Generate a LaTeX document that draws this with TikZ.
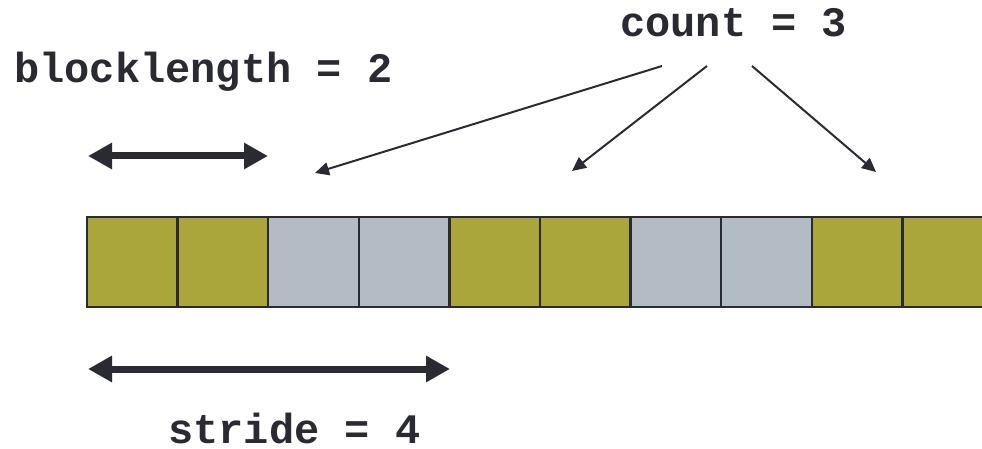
\documentclass[tikz,border=0pt]{standalone}
\usepackage{fontspec}
\setmonofont{Liberation Mono}
\usetikzlibrary{arrows.meta}
\definecolor{cellA}{HTML}{ABA63C}
\definecolor{cellB}{HTML}{B3BCC5}
\definecolor{inkc}{HTML}{2A2A33}
\tikzset{
  cellbox/.style={draw=inkc, line width=2.5pt, minimum width=90.6pt, minimum height=90pt, inner sep=0pt, outer sep=0pt},
  lbl/.style={font=\ttfamily\bfseries\fontsize{42}{42}\selectfont, text=inkc, inner sep=0pt, anchor=base west, text depth=0pt},
  bigarrow/.style={draw=inkc, line width=7pt, {Triangle[length=24pt,width=25pt]}-{Triangle[length=24pt,width=25pt]}},
  cntarrow/.style={draw=inkc, line width=2pt, -{Triangle[length=14pt,width=13pt]}}
}
\begin{document}
\begin{tikzpicture}[x=1pt,y=-1pt]
\useasboundingbox (0,0) rectangle (982,449);
\clip (0,0) rectangle (982,449);
\foreach \i/\c in {0/cellA,1/cellA,2/cellB,3/cellB,4/cellA,5/cellA,6/cellB,7/cellB,8/cellA,9/cellA}{
  \node[cellbox, fill=\c] (c\i) at (87+45.3+\i*90.6, 262) {};
}
\node[lbl] (cnt) at (620,37) {count = 3};
\node[lbl] (bl) at (14,83) {blocklength = 2};
\node[lbl] (st) at (168,443) {stride = 4};
\coordinate (s1) at (662,66);
\coordinate (s2) at (707,66);
\coordinate (s3) at (752,66);
\coordinate (t1) at (315,173);
\coordinate (t2) at (572,171);
\coordinate (t3) at (876,172);
\draw[cntarrow] (s1) -- (t1);
\draw[cntarrow] (s2) -- (t2);
\draw[cntarrow] (s3) -- (t3);
\coordinate (a1) at (88,156);
\coordinate (a2) at (268,156);
\coordinate (b1) at (88,369);
\coordinate (b2) at (450,369);
\draw[bigarrow] (a1) -- (a2);
\draw[bigarrow] (b1) -- (b2);
\end{tikzpicture}
\end{document}
